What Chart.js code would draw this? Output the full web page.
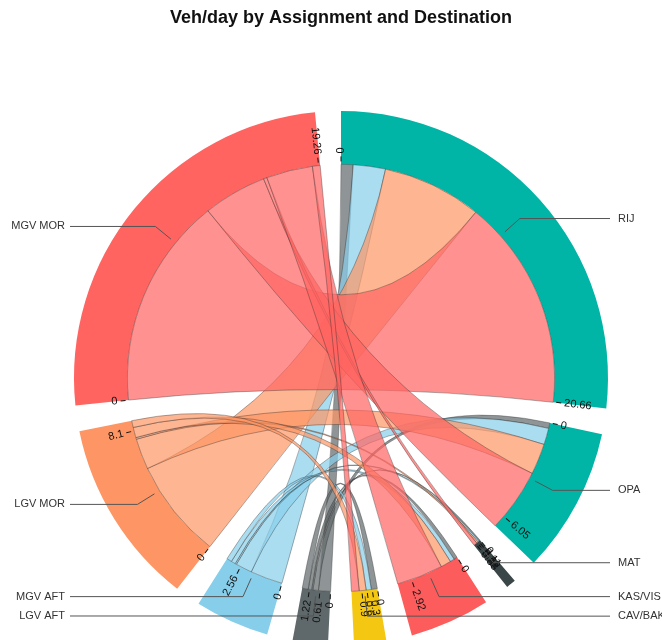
<!DOCTYPE html>
<html>
<head>
<meta charset="utf-8">
<title>Veh/day by Assignment and Destination</title>
<script src="https://cdn.jsdelivr.net/npm/chart.js@4.4.0/dist/chart.umd.min.js"></script>
<style>
  html, body { margin: 0; padding: 0; background: #fff; overflow: hidden; }
  #wrap { position: relative; width: 662px; height: 660px; }
</style>
</head>
<body>
<div id="wrap"><canvas id="canvas"></canvas></div>
<script>
// Zuweisungen (Quellen) und Ziele
const sources = ['MGV MOR', 'LGV MOR', 'MGV AFT', 'LGV AFT'];
const destinations = ['RIJ', 'OPA', 'MAT', 'KAS/VIS', 'CAV/BAK'];

// Veh/day je Quelle zu jedem Ziel (Reihenfolge wie destinations)
const flowMgvMor = [12.3, 3.7, 0.2, 2.7, 0.45];
const flowLgvMor = [5.8, 1.8, 0.1, 0.6, 0.4];
const flowMgvAft = [1.88, 0.96, 0.08, 0.25, 0.3];
const flowLgvAft = [0.7, 0.32, 0.07, 0.2, 0.35];
const flows = [flowMgvMor, flowLgvMor, flowMgvAft, flowLgvAft];

// Tick-Beschriftungen je Gruppe
const sourceTicks = [[0, 19.26], [0, 8.1], [0, 2.56], [0, 0.61, 1.22]];
const destTicks = [[0, 20.66], [0, 6.05], [0, 0.11, 0.22, 0.33], [0, 2.92], [0, 0.3, 0.6, 0.9]];

const sourceColors = ['#ff6461', '#fd9664', '#87ceeb', '#5f686a'];
const destColors = ['#00b5a6', '#00b5a6', '#3b4648', '#fd5c5c', '#f4c712'];

const FONT = '"Liberation Sans", Arial, sans-serif';

// Kreis im Uhrzeigersinn ab oben: Ziele, dann Quellen rückwärts
const nodes = [];
destinations.forEach((name, j) => {
  nodes.push({ name, color: destColors[j], ticks: destTicks[j], kind: 'dest', idx: j,
    total: flows.reduce((a, row) => a + row[j], 0) });
});
for (let i = sources.length - 1; i >= 0; i--) {
  nodes.push({ name: sources[i], color: sourceColors[i], ticks: sourceTicks[i], kind: 'src', idx: i,
    total: flows[i].reduce((a, b) => a + b, 0) });
}

const gapDeg = 5.6;
const grand = nodes.reduce((a, n) => a + n.total, 0);
const gapValue = grand * gapDeg / (360 - nodes.length * gapDeg);

const values = [];
const colors = [];
nodes.forEach(n => {
  values.push(n.total, gapValue);
  colors.push(n.color, 'rgba(0,0,0,0)');
});

function rgba(hex, a) {
  const v = parseInt(hex.slice(1), 16);
  return `rgba(${(v >> 16) & 255}, ${(v >> 8) & 255}, ${v & 255}, ${a})`;
}

function ribbonPath(ctx, cx, cy, r, s0, s1, t0, t1) {
  ctx.beginPath();
  ctx.arc(cx, cy, r, s0, s1);
  ctx.quadraticCurveTo(cx, cy, cx + r * Math.cos(t0), cy + r * Math.sin(t0));
  ctx.arc(cx, cy, r, t0, t1);
  ctx.quadraticCurveTo(cx, cy, cx + r * Math.cos(s0), cy + r * Math.sin(s0));
  ctx.closePath();
}

// Bänder zwischen den Gruppen
const chordPlugin = {
  id: 'chords',
  afterDatasetsDraw(chart) {
    const ctx = chart.ctx;
    const arcs = chart.getDatasetMeta(0).data;
    const srcArc = {}, dstArc = {};
    nodes.forEach((n, k) => {
      if (n.kind === 'src') srcArc[n.idx] = arcs[2 * k];
      else dstArc[n.idx] = arcs[2 * k];
    });
    const cx = arcs[0].x, cy = arcs[0].y, r = arcs[0].innerRadius;

    // Abschnitte an den Quellen: Ziele in Reihenfolge
    const srcRange = flows.map((row, i) => {
      const el = srcArc[i];
      const k = (el.endAngle - el.startAngle) / row.reduce((a, b) => a + b, 0);
      let a = el.startAngle;
      return row.map(v => { const r0 = [a, a + v * k]; a += v * k; return r0; });
    });
    // Abschnitte an den Zielen: Quellen rückwärts
    const dstRange = flows.map(row => row.map(() => null));
    destinations.forEach((d, j) => {
      const el = dstArc[j];
      const tot = flows.reduce((a, row) => a + row[j], 0);
      const k = (el.endAngle - el.startAngle) / tot;
      let a = el.startAngle;
      for (let i = flows.length - 1; i >= 0; i--) {
        dstRange[i][j] = [a, a + flows[i][j] * k];
        a += flows[i][j] * k;
      }
    });

    ctx.save();
    for (let i = flows.length - 1; i >= 0; i--) {
      flows[i].forEach((v, j) => {
        const s = srcRange[i][j], t = dstRange[i][j];
        ribbonPath(ctx, cx, cy, r, s[0], s[1], t[0], t[1]);
        ctx.fillStyle = rgba(sourceColors[i], 0.7);
        ctx.fill();
        ctx.lineWidth = 0.8;
        ctx.strokeStyle = 'rgba(40, 40, 40, 0.45)';
        ctx.stroke();
      });
    }
    ctx.restore();

    // Ticks und Werte
    ctx.save();
    ctx.font = '11px ' + FONT;
    ctx.fillStyle = '#111';
    ctx.strokeStyle = '#111';
    ctx.lineWidth = 1;
    ctx.textBaseline = 'middle';
    nodes.forEach((n, k) => {
      const el = arcs[2 * k];
      const scale = (el.endAngle - el.startAngle) / n.total;
      n.ticks.forEach(tv => {
        const a = el.startAngle + tv * scale;
        const ri = el.innerRadius;
        ctx.save();
        ctx.translate(cx, cy);
        ctx.rotate(a);
        ctx.beginPath();
        ctx.moveTo(ri + 3, 0);
        ctx.lineTo(ri + 8, 0);
        ctx.stroke();
        const compass = ((a * 180 / Math.PI + 90) % 360 + 360) % 360;
        if (compass > 180) {
          ctx.translate(ri + 11, 0);
          ctx.rotate(Math.PI);
          ctx.textAlign = 'right';
          ctx.fillText(String(tv), 0, 0);
        } else {
          ctx.textAlign = 'left';
          ctx.fillText(String(tv), ri + 11, 0);
        }
        ctx.restore();
      });
    });
    ctx.restore();

    // Beschriftungen mit Führungslinien
    ctx.save();
    ctx.font = '11px ' + FONT;
    ctx.textBaseline = 'middle';
    nodes.forEach((n, k) => {
      const el = arcs[2 * k];
      const a = (el.startAngle + el.endAngle) / 2;
      const r1 = el.innerRadius + 6, r2 = el.innerRadius + 26;
      const x1 = cx + r1 * Math.cos(a), y1 = cy + r1 * Math.sin(a);
      const x2 = cx + r2 * Math.cos(a), y2 = cy + r2 * Math.sin(a);
      const left = Math.cos(a) < 0;
      const x3 = left ? 70 : 610;
      ctx.beginPath();
      ctx.moveTo(x1, y1);
      ctx.lineTo(x2, y2);
      ctx.lineTo(x3, y2);
      ctx.strokeStyle = '#555';
      ctx.lineWidth = 1;
      ctx.stroke();
      ctx.fillStyle = '#333';
      ctx.textAlign = left ? 'right' : 'left';
      ctx.fillText(n.name, left ? x3 - 5 : x3 + 8, y2);
    });
    ctx.restore();
  }
};

const chart = new Chart(document.querySelector('#canvas'), {
  type: 'doughnut',
  data: {
    labels: nodes.flatMap(n => [n.name, '']),
    datasets: [{
      data: values,
      backgroundColor: colors,
      borderWidth: 0,
      hoverOffset: 0
    }]
  },
  options: {
    responsive: true,
    maintainAspectRatio: false,
    animation: false,
    events: [],
    cutout: '80%',
    rotation: 0,
    layout: { padding: { left: 74, right: 54, top: 0, bottom: 15 } },
    plugins: {
      legend: { display: false },
      tooltip: { enabled: false },
      title: {
        display: true,
        text: 'Veh/day by Assignment and Destination',
        color: '#111',
        font: { size: 18, weight: 'bold', family: FONT, lineHeight: 1.2 },
        padding: { top: 7, bottom: 82.4 }
      }
    }
  },
  plugins: [chordPlugin]
});
</script>
</body>
</html>
